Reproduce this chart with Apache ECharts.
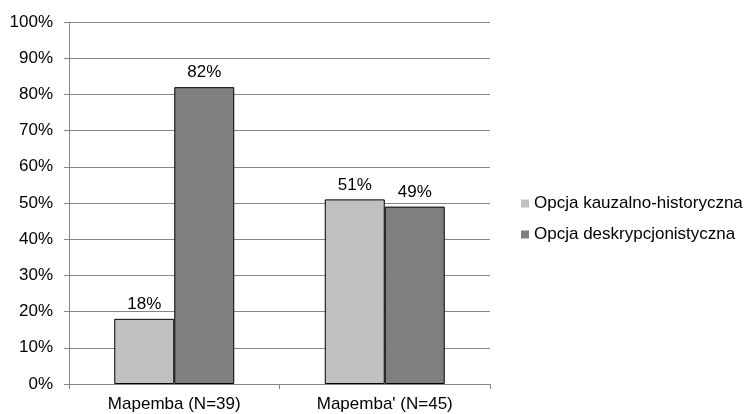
<!DOCTYPE html>
<html><head><meta charset="utf-8">
<script src="https://cdn.jsdelivr.net/npm/echarts@6/dist/echarts.min.js"></script>
<style>html,body{margin:0;padding:0;background:#fff}#c{width:748px;height:414px}</style>
</head><body><div id="c"></div>
<script>
const categories = ["Mapemba (N=39)", "Mapemba' (N=45)"];
const seriesNames = ["Opcja kauzalno-historyczna", "Opcja deskrypcjonistyczna"];
const kauzalno = [18, 51];
const deskryp = [82, 49];
const colors = ["#c0c0c0", "#808080"];
const font = "Liberation Sans, Arial, sans-serif";
const chart = echarts.init(document.getElementById('c'));
const mk = (name, data, color) => ({
  name, type: 'bar', data, barGap: '0%', barCategoryGap: '43%',
  itemStyle: {color, borderColor: '#000', borderWidth: 1},
  label: {show: true, position: 'top', formatter: '{c}%', color: '#000', fontSize: 17, fontFamily: font, distance: 6}
});
chart.setOption({
  animation: false,
  grid: {left: 69, right: 258, top: 22, bottom: 30},
  legend: {orient: 'vertical', left: 516, top: 190, itemWidth: 8, itemHeight: 8, itemGap: 14,
    textStyle: {fontSize: 17, fontFamily: font, color: '#000'},
    data: seriesNames.map((n, i) => ({name: n, icon: 'rect', itemStyle: {color: colors[i], borderWidth: 0}}))},
  xAxis: {type: 'category', data: categories,
    axisLine: {lineStyle: {color: '#868686'}},
    axisTick: {show: true, length: 5, lineStyle: {color: '#868686'}},
    axisLabel: {color: '#000', fontSize: 17, fontFamily: font, margin: 12}},
  yAxis: {type: 'value', min: 0, max: 100, interval: 10,
    axisLine: {show: true, lineStyle: {color: '#868686'}},
    axisTick: {show: true, length: 5, lineStyle: {color: '#868686'}},
    splitLine: {lineStyle: {color: '#868686'}},
    axisLabel: {formatter: '{value}%', color: '#000', fontSize: 17, fontFamily: font, margin: 16}},
  series: [mk(seriesNames[0], kauzalno, colors[0]), mk(seriesNames[1], deskryp, colors[1])]
});
</script></body></html>
